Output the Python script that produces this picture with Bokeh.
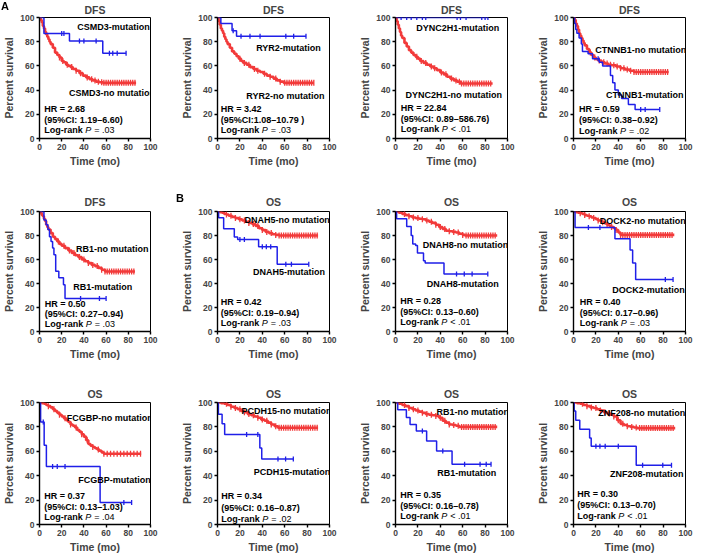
import numpy as np
from bokeh.plotting import figure
from bokeh.layouts import gridplot
from bokeh.models import Range1d, FixedTicker, Label
from bokeh.embed import file_html
from bokeh.resources import INLINE

# ---------------- data ----------------
ticks = [0, 20, 40, 60, 80, 100]

# Panel 1: CSMD3 (DFS)
csmd3_mut_t = [0, 4, 27, 57]
csmd3_mut_s = [100, 86.7, 80.5, 70.4]
csmd3_mut_end = 78
csmd3_mut_c = [20, 22, 36, 40, 51, 63, 66, 70, 78]
csmd3_no_t = [0, 1, 2, 3, 4, 5, 6, 7, 8, 9, 10, 12, 14, 16, 18, 20, 22, 24, 26, 28, 30, 33, 36, 39, 42, 45, 48, 51, 54, 57]
csmd3_no_s = [100, 98, 96, 93, 91, 88, 86, 84, 82, 80, 78, 75, 71, 69, 67, 64, 63, 61, 60, 59, 57.5, 56, 54, 52, 50.5, 49, 48, 47, 46.5, 46]
csmd3_no_end = 87
csmd3_no_c = [18, 21, 25, 29, 33, 37, 43, 47, 50, 53, 56, 58, 60, 62, 64, 66, 68, 70, 72, 74, 76, 78, 80, 82, 84, 86]

# Panel 2: RYR2 (DFS)
ryr2_mut_t = [0, 3, 13, 17]
ryr2_mut_s = [100, 95, 89, 84.5]
ryr2_mut_end = 79
ryr2_mut_c = [14, 21, 29, 38, 61, 68, 79]
ryr2_no_t = [0, 1, 2, 3, 4, 5, 6, 7, 8, 9, 11, 13, 15, 17, 19, 21, 23, 26, 29, 32, 35, 38, 41, 44, 47, 50, 53, 56, 59]
ryr2_no_s = [100, 97, 94, 91, 89, 87, 84, 82, 80, 78, 75, 72, 70, 68, 66, 64, 62.5, 61, 59, 57.5, 56, 55, 53.5, 52, 51, 49.5, 48, 47, 46]
ryr2_no_end = 86
ryr2_no_c = [20, 24, 28, 33, 36, 42, 47, 52, 56, 60, 62, 64, 66, 68, 70, 72, 74, 76, 78, 80, 82, 84, 86]

# Panel 3: DYNC2H1 (DFS)
dync_mut_t = [0]
dync_mut_s = [100]
dync_mut_end = 82.5
dync_mut_c = [5, 10, 14, 19, 24, 27, 55, 58, 63, 77, 80, 82.5]
dync_no_t = [0, 1, 2, 3, 4, 5, 6, 8, 10, 12, 14, 16, 18, 20, 22, 25, 28, 31, 34, 37, 40, 43, 46, 49, 52, 55, 58]
dync_no_s = [100, 97, 94, 91, 88, 85, 83, 79, 76, 73, 71, 69, 67.5, 66, 64, 62.5, 61, 59.5, 58, 56.5, 54.5, 53, 51, 49.5, 48, 47, 45.5]
dync_no_end = 86.7
dync_no_c = [19, 23, 27, 32, 35, 41, 45, 50, 54, 57, 59, 61, 63, 65, 67, 69, 71, 73, 75, 77, 79, 81, 83, 85]

# Panel 4: CTNNB1 (DFS)
ctnnb1_mut_t = [0, 1, 2, 3, 5, 7, 8, 13, 17, 23, 26, 33, 35, 37, 40, 43, 49, 55]
ctnnb1_mut_s = [100, 95, 90, 87, 83, 78, 72, 70, 66, 63, 60, 52, 46, 40, 36, 33, 28, 24]
ctnnb1_mut_end = 77
ctnnb1_mut_c = [22, 60, 64, 77]
ctnnb1_no_t = [0, 1, 2, 3, 4, 5, 6, 7, 8, 9, 10, 12, 14, 16, 18, 20, 22, 25, 28, 31, 34, 38, 42, 46, 50, 54]
ctnnb1_no_s = [100, 98, 95, 93, 90, 87, 85, 83, 81, 79, 77, 74, 71, 69, 67, 65.5, 64.5, 63, 62, 61, 60.5, 59.5, 58, 57, 56, 55]
ctnnb1_no_end = 85
ctnnb1_no_c = [15, 19, 23, 27, 30, 33, 36, 39, 42, 45, 48, 51, 54, 56, 58, 60, 62, 64, 66, 68, 70, 72, 74, 76, 78, 80, 82, 84]

# Panel 5: RB1 (DFS)
rb1d_mut_t = [0, 4, 6, 7.6, 9, 10.4, 11.8, 13, 14.6, 17.4, 21.6, 23]
rb1d_mut_s = [100, 93, 89, 85, 79, 75, 69.6, 64, 50.3, 44.8, 39, 27.5]
rb1d_mut_end = 60
rb1d_mut_c = [37, 54, 60]
rb1d_no_t = [0, 1, 2, 3, 4, 5, 6, 7, 8, 10, 12, 14, 16, 18, 20, 23, 26, 29, 32, 35, 38, 41, 44, 47, 50, 53, 56, 59]
rb1d_no_s = [100, 99, 97, 96, 94, 92, 89, 87, 85, 82, 79, 77, 75, 73, 71.5, 69.5, 67.5, 65.5, 63.5, 62, 60, 58.5, 57, 55.5, 54.5, 53, 51.5, 50]
rb1d_no_end = 86
rb1d_no_c = [17, 22, 27, 31, 36, 40, 44, 48, 52, 56, 59, 61, 63, 65, 67, 69, 71, 73, 75, 77, 79, 81, 83, 85]

# Panel 6: DNAH5 (OS)
dnah5_mut_t = [0, 1, 5.5, 15, 18, 36.7, 53.3]
dnah5_mut_s = [100, 94.8, 85.7, 78.8, 76.6, 70.6, 56]
dnah5_mut_end = 81.5
dnah5_mut_c = [20, 24, 40, 43.6, 47.5, 61, 66, 81.5]
dnah5_no_t = [0, 2, 4, 6, 8, 10, 13, 16, 19, 22, 25, 28, 31, 34, 37, 40, 43, 46, 49, 52, 55]
dnah5_no_s = [100, 99.5, 99, 98, 97.5, 96.5, 95.5, 94.5, 93.5, 92.5, 91.5, 90.5, 89.5, 88, 86, 84.5, 83, 82, 81, 80.5, 80]
dnah5_no_end = 89.8
dnah5_no_c = [8, 12, 16, 20, 24, 28, 32, 36, 40, 44, 48, 52, 55, 57, 59, 61, 63, 65, 67, 69, 71, 73, 75, 77, 79, 81, 83, 85, 87, 89]

# Panel 7: DNAH8 (OS)
dnah8_mut_t = [0, 1, 10, 14, 15.4, 18, 19.6, 25, 26.5, 43.3]
dnah8_mut_s = [100, 93.9, 87.5, 80, 73, 71.6, 65.5, 59, 57, 48]
dnah8_mut_end = 82.4
dnah8_mut_c = [54.5, 61.4, 68.4, 82.4]
dnah8_no_t = [0, 3, 6, 9, 12, 15, 18, 21, 24, 27, 30, 33, 36, 39, 42, 45, 48, 51, 54, 57, 60, 62]
dnah8_no_s = [100, 99, 98, 97, 96, 95, 94.5, 94, 93.5, 92.5, 91.5, 90.5, 89, 87, 85.5, 84, 83.5, 83, 82.5, 81.5, 80.5, 80]
dnah8_no_end = 90.8
dnah8_no_c = [8, 12, 16, 20, 24, 28, 32, 36, 40, 44, 48, 52, 56, 60, 63, 65, 67, 69, 71, 73, 75, 77, 79, 81, 83, 85, 87, 89]

# Panel 8: DOCK2 (OS)
dock2_mut_t = [0, 1.4, 37, 50.5, 52.8, 55.5]
dock2_mut_s = [100, 86.7, 77.3, 68, 57, 43.4]
dock2_mut_end = 88.9
dock2_mut_c = [13.3, 23.6, 82, 88.9]
dock2_no_t = [0, 2, 4, 6, 8, 10, 12, 14, 16, 18, 20, 22, 24, 26, 28, 30, 32, 34, 36, 38, 40, 42]
dock2_no_s = [100, 99.5, 99, 98.5, 98, 97, 96.5, 96, 95, 94.5, 93.5, 92.5, 92, 91, 90, 89, 88, 87, 86, 84.5, 82.5, 80.5]
dock2_no_end = 90
dock2_no_c = [6, 10, 14, 18, 22, 26, 30, 34, 38, 42, 44, 46, 48, 50, 52, 54, 56, 58, 60, 62, 64, 66, 68, 70, 72, 74, 76, 78, 80, 82, 84, 86, 88]

# Panel 9: FCGBP (OS)
fcgbp_mut_t = [0, 1, 4.2, 6.2, 54.6]
fcgbp_mut_s = [100, 84, 65, 47.5, 18]
fcgbp_mut_end = 83
fcgbp_mut_c = [3.4, 11.8, 16, 23, 76, 83]
fcgbp_no_t = [0, 2, 4, 6, 8, 10, 12, 14, 16, 18, 20, 22, 24, 26, 28, 30, 32, 34, 36, 38, 40, 42, 44, 46, 48, 50, 52, 54, 56, 58]
fcgbp_no_s = [100, 99.5, 99, 98, 97, 96, 94.5, 93, 91.5, 90, 88.5, 87, 85.5, 84, 82, 81, 79.5, 77.5, 76, 74, 72, 69, 66, 64.5, 63.5, 62.5, 61.5, 60.5, 59, 58]
fcgbp_no_end = 91.6
fcgbp_no_c = [8, 13, 18, 23, 28, 33, 38, 43, 48, 53, 58, 61, 64, 67, 70, 73, 76, 79, 82, 85, 88, 91]

# Panel 10: PCDH15 (OS)
pcdh15_mut_t = [0, 0.8, 4.1, 6.4, 37.8, 39.5]
pcdh15_mut_s = [100, 90.3, 82.6, 73.8, 62.7, 53.6]
pcdh15_mut_end = 67.7
pcdh15_mut_c = [26, 36, 54, 60.8, 67.7]
pcdh15_no_t = [0, 3, 6, 9, 12, 15, 18, 21, 24, 27, 30, 33, 36, 39, 42, 45, 48, 51, 54]
pcdh15_no_s = [100, 99.5, 99, 98, 96.5, 95.5, 94.5, 93, 92, 90.5, 89.5, 88.5, 87.5, 86, 85, 83.5, 82, 80.5, 79.3]
pcdh15_no_end = 89.8
pcdh15_no_c = [8, 12, 16, 20, 24, 28, 32, 36, 40, 44, 48, 52, 55, 57, 59, 61, 63, 65, 67, 69, 71, 73, 75, 77, 79, 81, 83, 85, 87, 89]

# Panel 11: RB1 (OS)
rb1o_mut_t = [0, 2, 9.7, 13, 18.6, 27.8, 36.7, 50.5]
rb1o_mut_s = [100, 94, 87.7, 82, 76.7, 68.5, 60.3, 49.3]
rb1o_mut_end = 85.3
rb1o_mut_c = [24, 42.2, 61.7, 75.5, 81, 85.3]
rb1o_no_t = [0, 3, 6, 9, 12, 15, 18, 21, 24, 27, 30, 33, 36, 39, 42, 45, 48, 51, 54, 57]
rb1o_no_s = [100, 99, 98, 97, 95.5, 94.5, 93.5, 92.5, 91.5, 90.5, 90, 89.5, 89, 87.5, 85, 83.5, 82, 81.5, 81, 80]
rb1o_no_end = 90.8
rb1o_no_c = [8, 12, 16, 20, 24, 28, 32, 36, 40, 44, 48, 52, 56, 59, 61, 63, 65, 67, 69, 71, 73, 75, 77, 79, 81, 83, 85, 87, 89]

# Panel 12: ZNF208 (OS)
znf_mut_t = [0, 0.6, 2, 5.6, 14.4, 15.8, 56]
znf_mut_s = [100, 93, 85.4, 78, 71, 64.2, 48.5]
znf_mut_end = 87.5
znf_mut_c = [20, 23.6, 28.3, 40, 61.7, 79.7, 87.5]
znf_no_t = [0, 3, 6, 9, 12, 15, 18, 21, 24, 27, 30, 33, 36, 39, 42, 45, 48, 51, 54, 57]
znf_no_s = [100, 99.5, 99, 98, 97, 96, 95.5, 94.5, 93.5, 92, 91, 90, 88.5, 85.5, 82.5, 81.5, 80.5, 80, 79.5, 79]
znf_no_end = 90.8
znf_no_c = [8, 12, 16, 20, 24, 28, 32, 36, 40, 44, 48, 52, 56, 59, 61, 63, 65, 67, 69, 71, 73, 75, 77, 79, 81, 83, 85, 87, 89]

titles = ["DFS", "DFS", "DFS", "DFS", "DFS", "OS", "OS", "OS", "OS", "OS", "OS", "OS"]
genes = ["CSMD3", "RYR2", "DYNC2H1", "CTNNB1", "RB1", "DNAH5", "DNAH8", "DOCK2", "FCGBP", "PCDH15", "RB1", "ZNF208"]
hr_text = ["HR = 2.68", "HR = 3.42", "HR = 22.84", "HR = 0.59", "HR = 0.50", "HR = 0.42",
           "HR = 0.28", "HR = 0.40", "HR = 0.37", "HR = 0.34", "HR = 0.35", "HR = 0.30"]
ci_text = ["(95%CI: 1.19\u20136.60)", "(95%CI:1.08\u201310.79 )", "(95%CI: 0.89\u2013586.76)",
           "(95%CI: 0.38\u20130.92)", "(95%CI: 0.27\u20130.94)", "(95%CI: 0.19\u20130.94)",
           "(95%CI: 0.13\u20130.60)", "(95%CI: 0.17\u20130.96)", "(95%CI: 0.13\u20131.03)",
           "(95%CI: 0.16\u20130.87)", "(95%CI: 0.16\u20130.78)", "(95%CI: 0.13\u20130.70)"]
p_text = ["= .03", "= .03", "< .01", "= .02", "= .03", "= .03",
          "< .01", "= .03", "= .04", "= .02", "< .01", "< .01"]
panel_letters = ["A", "B"]

# ---------------- layout constants ----------------
FONT = "Liberation Sans"
RED = "#f23a3a"
BLUE = "#1f1fe8"
COL_W = [178, 178, 178, 159]
COL_L = [32, 33, 33, 33]
COL_R = [28, 27, 27, 8]
ROW_H = [190, 190, 177]
ROW_T = [16, 19, 22]
ROW_B = [52, 49, 33]
TITLE_STANDOFF = [3, 7, 6]

# label positions (data units): (mut x, mut y), (no x, no y), stats x, stats ys
label_pos = [
    ((34, 92), (26.5, 38), 4.2, (24.7, 15, 6.8)),
    ((34.5, 74.4), (25.7, 35.5), 2.8, (24.4, 15.3, 6.9)),
    ((18.6, 91), (8.9, 36), 4.7, (24.8, 15.9, 7.5)),
    ((29, 35.8), (19.5, 73), 5, (24.5, 15.5, 6.5)),
    ((30.5, 37), (32.8, 68.8), 4.8, (23.2, 14.4, 6.6)),
    ((31.8, 49.2), (24, 92.6), 2.8, (24.5, 15.7, 7.4)),
    ((28, 39.5), (24.3, 72.4), 4.2, (25.6, 16.4, 8)),
    ((34.7, 35), (23.5, 91.7), 5.6, (24.6, 15.2, 6.9)),
    ((35, 36.3), (24.5, 87.7), 4.2, (23.2, 14.5, 6.3)),
    ((32.3, 43), (21.5, 93), 3.3, (23.2, 13.5, 4.7)),
    ((37.2, 42), (36.7, 92.3), 4.2, (23.8, 15, 6.8)),
    ((32.5, 41.3), (22.2, 91.7), 3.3, (24.8, 16, 7.2)),
]

curves = [
    (csmd3_mut_t, csmd3_mut_s, csmd3_mut_end, csmd3_mut_c, csmd3_no_t, csmd3_no_s, csmd3_no_end, csmd3_no_c),
    (ryr2_mut_t, ryr2_mut_s, ryr2_mut_end, ryr2_mut_c, ryr2_no_t, ryr2_no_s, ryr2_no_end, ryr2_no_c),
    (dync_mut_t, dync_mut_s, dync_mut_end, dync_mut_c, dync_no_t, dync_no_s, dync_no_end, dync_no_c),
    (ctnnb1_mut_t, ctnnb1_mut_s, ctnnb1_mut_end, ctnnb1_mut_c, ctnnb1_no_t, ctnnb1_no_s, ctnnb1_no_end, ctnnb1_no_c),
    (rb1d_mut_t, rb1d_mut_s, rb1d_mut_end, rb1d_mut_c, rb1d_no_t, rb1d_no_s, rb1d_no_end, rb1d_no_c),
    (dnah5_mut_t, dnah5_mut_s, dnah5_mut_end, dnah5_mut_c, dnah5_no_t, dnah5_no_s, dnah5_no_end, dnah5_no_c),
    (dnah8_mut_t, dnah8_mut_s, dnah8_mut_end, dnah8_mut_c, dnah8_no_t, dnah8_no_s, dnah8_no_end, dnah8_no_c),
    (dock2_mut_t, dock2_mut_s, dock2_mut_end, dock2_mut_c, dock2_no_t, dock2_no_s, dock2_no_end, dock2_no_c),
    (fcgbp_mut_t, fcgbp_mut_s, fcgbp_mut_end, fcgbp_mut_c, fcgbp_no_t, fcgbp_no_s, fcgbp_no_end, fcgbp_no_c),
    (pcdh15_mut_t, pcdh15_mut_s, pcdh15_mut_end, pcdh15_mut_c, pcdh15_no_t, pcdh15_no_s, pcdh15_no_end, pcdh15_no_c),
    (rb1o_mut_t, rb1o_mut_s, rb1o_mut_end, rb1o_mut_c, rb1o_no_t, rb1o_no_s, rb1o_no_end, rb1o_no_c),
    (znf_mut_t, znf_mut_s, znf_mut_end, znf_mut_c, znf_no_t, znf_no_s, znf_no_end, znf_no_c),
]


def surv_at(tk, sk, times):
    idx = np.searchsorted(np.asarray(tk, float), np.asarray(times, float), side="right") - 1
    return [sk[i] for i in idx]


def lab(p, x, y, text, size="9px", style="bold", x_offset=0):
    p.add_layout(Label(x=x, y=y, text=text, x_offset=x_offset,
                       text_font=FONT, text_font_size=size, text_font_style=style,
                       text_align="left", text_baseline="middle", text_color="black"))


def draw_km(p, tk, sk, end, cens, color, lw, msize):
    xs = list(tk) + [end]
    ys = list(sk) + [sk[-1]]
    p.step(xs, ys, mode="after", line_color=color, line_width=lw)
    p.scatter(cens, surv_at(tk, sk, cens), marker="dash", angle=np.pi / 2,
              size=msize, line_color=color, line_width=1.3)


figs = []
for i in range(12):
    r, c = divmod(i, 4)
    p = figure(width=COL_W[c], height=ROW_H[r], output_backend="svg", toolbar_location=None,
               x_range=Range1d(0, 100), y_range=Range1d(0, 100),
               min_border_left=COL_L[c], min_border_right=COL_R[c],
               min_border_top=ROW_T[r], min_border_bottom=ROW_B[r])
    p.title.text = titles[i]
    p.title.align = "center"
    p.title.text_font = FONT
    p.title.text_font_size = "10.5px"
    p.title.text_font_style = "bold"
    p.title.standoff = TITLE_STANDOFF[r]
    p.xgrid.visible = False
    p.ygrid.visible = False
    p.outline_line_color = "black"
    p.outline_line_width = 1
    for ax in (p.xaxis[0], p.yaxis[0]):
        ax.ticker = FixedTicker(ticks=ticks)
        ax.axis_line_width = 1.4
        ax.major_tick_line_width = 1.4
        ax.major_tick_out = 3
        ax.major_tick_in = 0
        ax.minor_tick_line_color = None
        ax.major_label_text_font = FONT
        ax.major_label_text_font_style = "bold"
        ax.major_label_text_font_size = "8.5px"
        ax.major_label_standoff = 2
        ax.axis_label_text_font = FONT
        ax.axis_label_text_font_style = "bold"
        ax.axis_label_text_font_size = "10.5px"
        ax.axis_label_standoff = 2
    p.xaxis.axis_label = "Time (mo)"
    p.yaxis.axis_label = "Percent survival"

    mt, ms, me, mc, nt, ns, ne, nc = curves[i]
    draw_km(p, nt, ns, ne, nc, RED, 2.6, 6)
    draw_km(p, mt, ms, me, mc, BLUE, 1.5, 5)

    (mx, my), (nx, ny), sx, (y1, y2, y3) = label_pos[i]
    lab(p, mx, my, genes[i] + "-mutation")
    lab(p, nx, ny, genes[i] + "-no mutation")
    lab(p, sx, y1, hr_text[i])
    lab(p, sx, y2, ci_text[i])
    lab(p, sx, y3, "Log-rank")
    lab(p, sx, y3, "P", style="italic", x_offset=41)
    lab(p, sx, y3, p_text[i], style="normal", x_offset=50)
    figs.append(p)

grid = gridplot([figs[0:4], figs[4:8], figs[8:12]], toolbar_location=None)
html = file_html(grid, INLINE)

# panel letters "A" and "B" as fixed-position page text
letter_style = ("position:fixed;z-index:50;font-family:'Liberation Sans';font-weight:bold;"
                "font-size:11px;line-height:11px;color:black;margin:0;padding:0;")
extra = (f"<div style=\"{letter_style}left:1px;top:1px;\">{panel_letters[0]}</div>"
         f"<div style=\"{letter_style}left:176px;top:193px;\">{panel_letters[1]}</div>")
body_at = html.rfind("<body")
body_end = html.find(">", body_at) + 1
html = html[:body_end] + extra + html[body_end:]
open("out.html", "w").write(html)
